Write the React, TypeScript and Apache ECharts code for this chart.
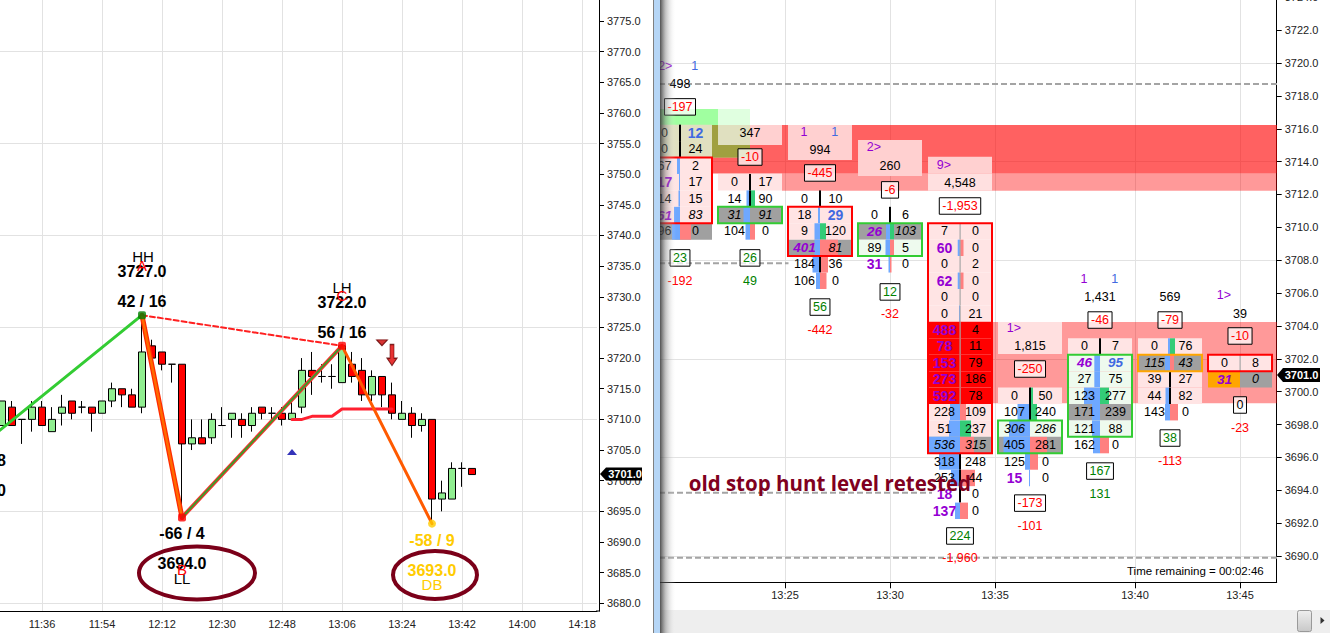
import React, { useEffect, useRef } from "react";
import * as echarts from "echarts";

const FONT = '"Liberation Sans", Arial, sans-serif';

// ---------- left chart data ----------
const leftTimes: string[] = [];
for (let m = 11 * 60 + 21; m <= 14 * 60 + 21; m += 3) {
  leftTimes.push(`${Math.floor(m / 60)}:${String(m % 60).padStart(2, "0")}`);
}
const leftLabelIndexes = [5, 11, 17, 23, 29, 35, 41, 47, 53, 59];
// open, close, low, high
const candles: (number | string)[][] = [
  ["-", "-", "-", "-"],
  [3709, 3713, 3709, 3713],
  [3712, 3709, 3709, 3713],
  [3710, 3710, 3706, 3710],
  [3710, 3712, 3708, 3713],
  [3712, 3709, 3709, 3713],
  [3708, 3710, 3708, 3712],
  [3711, 3712, 3709, 3714],
  [3713, 3711, 3710, 3713],
  [3712, 3712, 3711, 3713],
  [3712, 3711, 3708, 3712],
  [3711, 3713, 3711, 3713],
  [3713, 3715, 3712, 3716],
  [3715, 3714, 3712, 3715],
  [3714, 3712, 3712, 3715],
  [3712, 3721, 3711, 3727],
  [3722, 3720, 3720, 3723],
  [3721, 3719, 3718, 3721],
  [3719, 3719, 3716, 3719],
  [3719, 3706, 3694, 3719],
  [3706, 3707, 3705, 3710],
  [3707, 3706, 3706, 3710],
  [3707, 3710, 3706, 3711],
  [3709, 3709, 3709, 3712],
  [3710, 3711, 3707, 3711],
  [3710, 3709, 3707, 3711],
  [3709, 3711, 3708, 3712],
  [3712, 3711, 3710, 3712],
  [3711, 3711, 3710, 3712],
  [3711, 3710, 3709, 3712],
  [3710, 3711, 3710, 3713],
  [3712, 3718, 3711, 3720],
  [3718, 3717, 3714, 3721],
  [3717, 3717, 3716, 3719],
  [3717, 3717, 3715, 3719],
  [3716, 3722, 3716, 3722],
  [3719, 3717, 3716, 3721],
  [3718, 3714, 3713, 3720],
  [3714, 3717, 3713, 3718],
  [3717, 3714, 3712, 3717],
  [3714, 3711, 3710, 3716],
  [3710, 3711, 3710, 3713],
  [3711, 3709, 3707, 3712],
  [3709, 3710, 3708, 3711],
  [3710, 3697, 3693, 3710],
  [3697, 3698, 3695, 3700],
  [3697, 3702, 3697, 3703],
  [3702, 3702, 3699, 3703],
  [3702, 3701, 3701, 3702],
];
const upLeg = [["11:21", 3707.2], ["12:06", 3727]];
const dropLeg = [["12:06", 3727], ["12:18", 3694]];
const riseLeg = [["12:18", 3694], ["13:06", 3722]];
const lastLeg = [["13:06", 3722], ["13:33", 3693]];
const highsLink = [["12:06", 3727], ["13:06", 3722]];
const redStep = [
  ["12:51", 3710], ["12:54", 3710], ["12:57", 3710.5], ["13:00", 3710.5], ["13:03", 3710.5],
  ["13:06", 3711.7], ["13:09", 3711.7], ["13:12", 3711.7], ["13:15", 3711.7], ["13:18", 3711.7], ["13:21", 3711.7],
];

// ---------- right chart data ----------
const rightTickValues = [1.5, 3, 4.5, 6.5, 8];
const rightTickLabels = ["13:25", "13:30", "13:35", "13:40", "13:45"];
// price, bid, ask, bid bar, ask bar, ask bar kind, fills, fonts, centre line
type Row = [number, number, number, number, number, string, string, string, string];
const col0: Row[] = [
  [3716, 0, 12, 0, 0, "", "ee", "nU", "k"],
  [3715, 0, 24, 0, 0, "", "ee", "nn", "k"],
  [3714, 67, 2, 3, 0, "", "pp", "nn", "-"],
  [3713, 17, 17, 1, 0, "", "pp", "Pn", "-"],
  [3712, 14, 15, 1.5, 0, "", "pp", "nn", "-"],
  [3711, 61, 83, 6, 0, "", "pp", "Qi", "-"],
  [3710, 96, 0, 8, 11, "r", "gg", "nn", "-"],
];
const col1: Row[] = [
  [3713, 0, 17, 0, 0, "", "pp", "nn", "k"],
  [3712, 14, 90, 3.5, 5, "g", "ww", "nn", "k"],
  [3711, 31, 91, 6.5, 0, "", "gg", "ii", "-"],
  [3710, 104, 0, 4.5, 5, "r", "ww", "nn", "-"],
];
const col2: Row[] = [
  [3712, 0, 10, 0, 0, "", "ww", "nn", "k"],
  [3711, 18, 29, 2, 0, "", "pp", "nU", "-"],
  [3710, 9, 120, 5.5, 6, "g", "pp", "nn", "-"],
  [3709, 401, 81, 5.5, 18, "r", "gg", "Qi", "-"],
  [3708, 184, 36, 7.5, 8, "r", "ww", "nn", "k"],
  [3707, 106, 0, 4, 6.5, "r", "ww", "nn", "-"],
];
const col3: Row[] = [
  [3711, 0, 6, 0, 0, "", "ww", "nn", "k"],
  [3710, 26, 103, 4, 4, "g", "gg", "Qi", "-"],
  [3709, 89, 5, 4.5, 4, "r", "ll", "nn", "-"],
  [3708, 31, 0, 1.5, 1.5, "r", "ww", "Pn", "-"],
];
const col4: Row[] = [
  [3710, 7, 0, 0, 0, "", "pp", "nn", "a"],
  [3709, 60, 0, 2.3, 3.5, "r", "pp", "Pn", "a"],
  [3708, 0, 2, 0, 0, "", "pp", "nn", "a"],
  [3707, 62, 0, 2.3, 3.5, "r", "pp", "Pn", "a"],
  [3706, 0, 0, 0, 0, "", "pp", "nn", "a"],
  [3705, 0, 21, 1, 0, "", "pp", "nn", "a"],
  [3704, 488, 4, 0, 0, "", "rr", "Pn", "a"],
  [3703, 78, 11, 0, 0, "", "rr", "Pn", "a"],
  [3702, 153, 79, 0, 0, "", "rr", "Pn", "a"],
  [3701, 273, 186, 0, 0, "", "rr", "Pn", "a"],
  [3700, 592, 78, 0, 0, "", "rr", "Pn", "a"],
  [3699, 228, 109, 10, 6, "r", "pp", "nn", "-"],
  [3698, 51, 237, 11, 11, "g", "pp", "nn", "-"],
  [3697, 536, 315, 32, 14, "r", "gg", "ii", "-"],
  [3696, 318, 248, 21, 0, "", "ww", "nn", "k"],
  [3695, 253, 44, 9, 15, "r", "ww", "nn", "k"],
  [3694, 18, 0, 0, 0, "", "ww", "Pn", "k"],
  [3693, 137, 0, 5, 8, "r", "ww", "Pn", "-"],
];
const col5: Row[] = [
  [3700, 0, 50, 0, 3, "g", "pp", "nn", "k"],
  [3699, 107, 240, 12.5, 7, "g", "ww", "nn", "k"],
  [3698, 306, 286, 21, 0, "", "ll", "ii", "-"],
  [3697, 405, 281, 26.5, 17, "r", "gg", "nn", "-"],
  [3696, 125, 0, 5, 8, "r", "ww", "nn", "-"],
  [3695, 15, 0, 1, 0, "", "ww", "Pn", "-"],
];
const col6: Row[] = [
  [3703, 0, 7, 0, 0, "", "pp", "nn", "k"],
  [3702, 46, 95, 5.7, 0, "", "ll", "QV", "-"],
  [3701, 27, 75, 5.7, 0, "", "ll", "nn", "-"],
  [3700, 123, 277, 16, 9, "g", "ll", "nn", "-"],
  [3699, 171, 239, 8, 0, "", "gg", "nn", "-"],
  [3698, 121, 88, 8, 0, "", "ll", "nn", "-"],
  [3697, 162, 0, 7, 9, "r", "ww", "nn", "-"],
];
const col7: Row[] = [
  [3703, 0, 76, 2, 5, "g", "pp", "nn", "-"],
  [3702, 115, 43, 5, 4, "r", "gg", "ii", "-"],
  [3701, 39, 27, 0, 0, "", "pp", "nn", "k"],
  [3700, 44, 82, 4.5, 0, "", "pp", "nn", "k"],
  [3699, 143, 0, 5, 8, "r", "ww", "nn", "-"],
];
const col8: Row[] = [
  [3702, 0, 8, 0, 0, "", "pp", "nn", "a"],
  [3701, 31, 0, 0, 0, "", "og", "Qi", "-"],
];
const columns = [col0, col1, col2, col3, col4, col5, col6, col7, col8];

// column, top row, bottom row, colour name
const frames: [number, number, number, string][] = [
  [0, 3714, 3711, "red"],
  [1, 3711, 3711, "green"],
  [2, 3711, 3709, "red"],
  [3, 3710, 3709, "green"],
  [4, 3710, 3697, "red"],
  [5, 3698, 3697, "green"],
  [6, 3702, 3698, "green"],
  [7, 3702, 3702, "orange"],
  [8, 3702, 3702, "red"],
];

// time position, price, text, kind
const summaryLabels: [number, number, string, string][] = [
  [-0.21, 3719.82, "2>", "purple"], [0.21, 3719.82, "1", "blue"],
  [0, 3718.73, "498", "plain"], [0, 3717.33, "-197", "redBox"], [0, 3708.14, "23", "greenBox"], [0, 3706.74, "-192", "red"],
  [1, 3715.75, "347", "plain"], [1, 3714.28, "-10", "redBox"], [1, 3708.14, "26", "greenBox"], [1, 3706.74, "49", "green"],
  [1.77, 3715.8, "1", "purple"], [2.21, 3715.8, "1", "blue"], [2, 3714.71, "994", "plain"], [2, 3713.31, "-445", "redBox"], [2, 3705.15, "56", "greenBox"], [2, 3703.76, "-442", "red"],
  [2.77, 3714.9, "2>", "purple"], [3, 3713.75, "260", "plain"], [3, 3712.28, "-6", "redBox"], [3, 3706.07, "12", "greenBox"], [3, 3704.73, "-32", "red"],
  [3.77, 3713.8, "9>", "purple"], [4, 3712.7, "4,548", "plain"], [4, 3711.3, "-1,953", "redBox"], [4, 3691.22, "224", "greenBox"], [4, 3689.88, "-1,960", "red"],
  [4.77, 3703.88, "1>", "purple"], [5, 3702.78, "1,815", "plain"], [5, 3701.38, "-250", "redBox"], [5, 3693.22, "-173", "redBox"], [5, 3691.83, "-101", "red"],
  [5.77, 3706.86, "1", "purple"], [6.21, 3706.86, "1", "blue"], [6, 3705.76, "1,431", "plain"], [6, 3704.36, "-46", "redBox"], [6, 3695.17, "167", "greenBox"], [6, 3693.77, "131", "green"],
  [7, 3705.76, "569", "plain"], [7, 3704.36, "-79", "redBox"], [7, 3697.18, "38", "greenBox"], [7, 3695.78, "-113", "red"],
  [7.77, 3705.88, "1>", "purple"], [8, 3704.73, "39", "plain"], [8, 3703.39, "-10", "redBox"], [8, 3699.19, "0", "plainBox"], [8, 3697.79, "-23", "red"],
];

// x start, x end, top price, bottom price, shade name
const zones: [number, number, number, number, string][] = [
  [-0.3, 0.543, 3717.21, 3716.23, "green1"],
  [0.543, 1, 3717.21, 3716.23, "green2"],
  [-0.3, 0.457, 3716.23, 3714.24, "olive1"],
  [0.457, 1, 3716.23, 3714.24, "olive2"],
  [1, 8.53, 3716.23, 3713.27, "red1"],
  [0.457, 1, 3714.24, 3713.27, "red1"],
  [1.457, 8.53, 3713.27, 3712.23, "red2"],
  [0.543, 1, 3716.23, 3715.01, "olive1"],
  [1, 1.457, 3716.23, 3715.01, "pink2"],
  [1.543, 2.457, 3716.23, 3714.1, "pink2"],
  [2.543, 3.457, 3715.32, 3713.13, "pink2"],
  [3.543, 4.457, 3714.3, 3713.27, "pink2"],
  [3.543, 4.457, 3713.27, 3712.23, "pink1"],
  [4.457, 8.53, 3704.24, 3699.29, "red2"],
  [4.543, 5.457, 3704.24, 3702.3, "pink1"],
  [-0.3, 0.457, 3719.2, 3718.2, "veil"],
  [3.543, 4.457, 3690.36, 3689.39, "veil"],
];
const dashedHigh = [[-0.3, 3718.73], [8.53, 3718.73]];
const dashedMid = [[-0.3, 3707.82], [1.55, 3707.82]];
const dashedStop = [[-0.3, 3693.85], [3.6, 3693.85]];
const dashedLow = [[-0.3, 3689.9], [8.53, 3689.9]];

const SHADES: Record<string, string> = {
  green1: "#a0ffa0", green2: "#e0ffe0", olive1: "#e0e0c0", olive2: "#a0a040",
  red1: "rgba(255,0,0,0.62)", red2: "rgba(255,0,0,0.4)", pink1: "#ffe0e0", pink2: "#ffd0d0",
  veil: "rgba(255,255,255,0.72)",
};
const FILLS: Record<string, string | null> = { p: "#ffe4e4", g: "#a0a0a0", r: "#ff0000", l: "#eefaee", o: "#ffa500", e: "#e0e0c0", w: null };
const FRAME_COLORS: Record<string, string> = { red: "#ff0000", green: "#33cc33", orange: "#ffa500" };
const CELL_FONTS: Record<string, any> = {
  n: { fontSize: 12.5, fill: "#000" },
  i: { fontSize: 12.5, fill: "#000", fontStyle: "italic" },
  P: { fontSize: 14, fill: "#9400d3", fontWeight: "bold" },
  Q: { fontSize: 13.5, fill: "#9400d3", fontWeight: "bold", fontStyle: "italic" },
  U: { fontSize: 14, fill: "#4169e1", fontWeight: "bold" },
  V: { fontSize: 13.5, fill: "#4169e1", fontWeight: "bold", fontStyle: "italic" },
};
const LABEL_COLORS: Record<string, string> = {
  plain: "#000", plainBox: "#000", red: "#ff0000", redBox: "#ff0000", green: "#008000", greenBox: "#008000", purple: "#9400d3", blue: "#4169e1",
};

const flatRows = columns.flatMap((rows, c) => rows.map((r) => ({ c, r })));
const rowTop = (p: number) => p + 0.25;
const rowBottom = (p: number) => p - 0.75;
const rowMid = (p: number) => p - 0.25;
const HALF = 32;

function renderZone(params: any, api: any) {
  const z = zones[params.dataIndex];
  const a = api.coord([z[0], z[2]]);
  const b = api.coord([z[1], z[3]]);
  return { type: "rect", shape: { x: a[0], y: a[1], width: b[0] - a[0], height: b[1] - a[1] }, style: { fill: SHADES[z[4]] } };
}

function renderRow(params: any, api: any) {
  const { c, r } = flatRows[params.dataIndex];
  const [p, bid, ask, bidBar, askBar, kind, fills, fonts, line] = r;
  const top = api.coord([c, rowTop(p)]);
  const bot = api.coord([c, rowBottom(p)]);
  const mid = api.coord([c, rowMid(p)]);
  const cx = top[0];
  const h = bot[1] - top[1];
  const children: any[] = [];
  const lf = FILLS[fills[0]];
  const rf = FILLS[fills[1]];
  if (lf) children.push({ type: "rect", shape: { x: cx - HALF, y: top[1], width: HALF, height: h }, style: { fill: lf } });
  if (rf) children.push({ type: "rect", shape: { x: cx, y: top[1], width: HALF, height: h }, style: { fill: rf } });
  if (bidBar > 0) children.push({ type: "rect", shape: { x: cx - bidBar, y: top[1], width: bidBar, height: h }, style: { fill: "#6ea8ff" } });
  if (askBar > 0) children.push({ type: "rect", shape: { x: cx, y: top[1], width: askBar, height: h }, style: { fill: kind === "g" ? "#33cc77" : "#ff8080" } });
  if (line !== "-") {
    children.push({ type: "rect", shape: { x: line === "k" ? cx - 1 : cx - 0.5, y: top[1], width: line === "k" ? 2 : 1.2, height: h }, style: { fill: line === "k" ? "#000" : "#a8a8a8" } });
  }
  const mk = (v: number, dx: number, code: string) => ({
    type: "text",
    style: { text: String(v), x: cx + dx, y: mid[1], align: "center", verticalAlign: "middle", fontFamily: FONT, ...CELL_FONTS[code] },
  });
  children.push(mk(bid, -15.5, fonts[0]), mk(ask, 15.5, fonts[1]));
  return { type: "group", children };
}

function renderFrame(params: any, api: any) {
  const f = frames[params.dataIndex];
  const a = api.coord([f[0], rowTop(f[1])]);
  const b = api.coord([f[0], rowBottom(f[2])]);
  return {
    type: "rect",
    shape: { x: a[0] - HALF, y: a[1], width: HALF * 2, height: b[1] - a[1] },
    style: { fill: "none", stroke: FRAME_COLORS[f[3]], lineWidth: 2 },
  };
}

function textWidth(t: string) {
  let w = 0;
  for (const ch of t) w += ch === "-" ? 0.333 : ch === "," ? 0.278 : 0.556;
  return w * 12.5;
}

function renderLabel(params: any, api: any) {
  const l = summaryLabels[params.dataIndex];
  const pt = api.coord([l[0], l[1]]);
  const children: any[] = [];
  if (l[3].endsWith("Box")) {
    const w = textWidth(l[2]) + 6;
    children.push({
      type: "rect",
      shape: { x: pt[0] - w / 2, y: pt[1] - 8.25, width: w, height: 16.5 },
      style: { fill: "rgba(255,255,255,0.75)", stroke: "#000", lineWidth: 1 },
    });
  }
  children.push({
    type: "text",
    style: { text: l[2], x: pt[0], y: pt[1], align: "center", verticalAlign: "middle", fontFamily: FONT, fontSize: 12.5, fill: LABEL_COLORS[l[3]] },
  });
  return { type: "group", children };
}

const range = (a: number, b: number, s: number) => {
  const out: number[] = [];
  for (let v = a; v <= b; v += s) out.push(v);
  return out;
};
const GRID = "#e2e2e2";

function legLine(data: any, color: string, width: number, extra: any = {}) {
  return {
    type: "line", xAxisIndex: 0, yAxisIndex: 0, data, symbol: "none", z: 5, silent: true,
    lineStyle: { color, width, cap: "round", ...extra },
  };
}
function dashed(data: any) {
  return {
    type: "line", xAxisIndex: 1, yAxisIndex: 2, data, symbol: "none", z: 3, silent: true,
    lineStyle: { color: "#a4a4a4", width: 2, type: [6, 3] },
  };
}
function marker(point: any, symbol: string, size: any, color: string, extra: any = {}) {
  return {
    type: "scatter", xAxisIndex: 0, yAxisIndex: 0, data: [point], symbol, symbolSize: size, z: 6, silent: true,
    itemStyle: { color, ...extra.item }, symbolRotate: extra.rotate ?? 0,
  };
}
const T = (text: string, x: number, y: number, opts: any = {}) => ({
  type: "text", z: 60, silent: true,
  style: { text, x, y, align: "center", verticalAlign: "middle", fontFamily: FONT, fontSize: 16, fill: "#000", ...opts },
});

function buildOption(): any {
  return {
    animation: false,
    backgroundColor: "#fff",
    grid: [
      { left: -13, top: 0, width: 610, height: 611, containLabel: false, outerBoundsMode: "none" },
      { left: 660, top: -5, width: 616.7, height: 587.3, containLabel: false, outerBoundsMode: "none" },
    ],
    xAxis: [
      {
        type: "category", gridIndex: 0, data: leftTimes, boundaryGap: true,
        axisLine: { lineStyle: { color: "#000", width: 1 } },
        axisTick: { customValues: leftLabelIndexes, alignWithLabel: true, length: 6, lineStyle: { color: "#000" } },
        axisLabel: { customValues: leftLabelIndexes, color: "#222", fontFamily: FONT, fontSize: 11, margin: 7, hideOverlap: false },
        splitLine: { show: true, alignWithLabel: true, lineStyle: { color: GRID, width: 1 } },
      },
      {
        type: "value", gridIndex: 1, min: -0.2857, max: 8.524,
        axisLine: { onZero: false, lineStyle: { color: "#000", width: 1 } },
        axisTick: { customValues: rightTickValues, length: 6, lineStyle: { color: "#000" } },
        axisLabel: { customValues: rightTickValues, color: "#222", fontFamily: FONT, fontSize: 11, margin: 7, formatter: (v: number) => rightTickLabels[rightTickValues.indexOf(v)] ?? "" },
        splitLine: { show: true, lineStyle: { color: GRID, width: 1 } },
      },
    ],
    yAxis: [
      {
        type: "value", gridIndex: 0, position: "right", offset: 2, min: 3678.74, max: 3778.42,
        axisLine: { show: true, onZero: false, lineStyle: { color: "#000", width: 1 } },
        axisTick: { show: true, customValues: range(3680, 3775, 5), length: 5, lineStyle: { color: "#000" } },
        axisLabel: { show: true, customValues: range(3680, 3775, 5), color: "#222", fontFamily: FONT, fontSize: 11, margin: 8, formatter: (v: number) => v.toFixed(1) },
        splitLine: { show: false },
      },
      {
        type: "value", gridIndex: 0, position: "right", min: 3678.74, max: 3778.42,
        axisLine: { show: false }, axisLabel: { show: false },
        axisTick: { show: false, customValues: range(3680, 3770, 15) },
        splitLine: { show: true, lineStyle: { color: GRID, width: 1 } },
      },
      {
        type: "value", gridIndex: 1, position: "right", min: 3688.4, max: 3724.14,
        axisLine: { show: true, onZero: false, lineStyle: { color: "#000", width: 1 } },
        axisTick: { show: true, customValues: range(3690, 3724, 2), length: 5, lineStyle: { color: "#000" } },
        axisLabel: { show: true, customValues: range(3690, 3724, 2), color: "#222", fontFamily: FONT, fontSize: 11, margin: 8, formatter: (v: number) => v.toFixed(1) },
        splitLine: { show: false },
      },
      {
        type: "value", gridIndex: 1, position: "right", min: 3688.4, max: 3724.14,
        axisLine: { show: false, onZero: false }, axisLabel: { show: false },
        axisTick: { show: false, customValues: range(3690, 3720, 6) },
        splitLine: { show: true, lineStyle: { color: GRID, width: 1 } },
      },
    ],
    series: [
      {
        type: "candlestick", xAxisIndex: 0, yAxisIndex: 0, data: candles, barWidth: 7, z: 4, silent: true,
        itemStyle: { color: "#90ee90", color0: "#ff0000", borderColor: "#000", borderColor0: "#000", borderColorDoji: "#000", borderWidth: 1 },
      },
      legLine(redStep, "#ff2030", 3),
      legLine(upLeg, "#33cc33", 3),
      legLine(dropLeg, "#ff2a00", 5),
      legLine(dropLeg, "#ff6a00", 2.5),
      legLine(riseLeg, "#ff3030", 4),
      legLine(riseLeg, "#3f9a2a", 2),
      legLine(lastLeg, "#ff5a00", 3),
      legLine(highsLink, "#ff2020", 2, { type: [5, 3] }),
      marker(["12:06", 3727], "roundRect", 8, "#008000"),
      marker(["12:18", 3694], "roundRect", 8, "#ff0000"),
      marker(["13:06", 3722], "roundRect", 8, "#ff0000"),
      marker(["13:33", 3693], "circle", 8, "#ffcc00"),
      marker(["12:51", 3704.7], "triangle", [10, 6], "#0000a8"),
      marker(["13:18", 3722.5], "triangle", [11, 6], "#cc0000", { rotate: 180, item: { borderColor: "#600000", borderWidth: 1 } }),
      marker(["13:21", 3720.5], "path://M3 0H7V13H10L5 20L0 13H3Z", [10, 21], "#e00000", { item: { borderColor: "#600000", borderWidth: 1 } }),
      {
        type: "custom", xAxisIndex: 1, yAxisIndex: 2, data: zones.map((z) => [z[0], z[2]]), renderItem: renderZone, clip: true, z: 2, silent: true,
        encode: { x: 0, y: 1 },
      },
      dashed(dashedHigh), dashed(dashedMid), dashed(dashedStop), dashed(dashedLow),
      {
        type: "custom", xAxisIndex: 1, yAxisIndex: 2, data: flatRows.map(({ c, r }) => [c, r[0]]), renderItem: renderRow, clip: true, z: 4, silent: true,
        encode: { x: 0, y: 1 },
      },
      {
        type: "custom", xAxisIndex: 1, yAxisIndex: 2, data: frames.map((f) => [f[0], f[1]]), renderItem: renderFrame, clip: true, z: 5, silent: true,
        encode: { x: 0, y: 1 },
      },
      {
        type: "custom", xAxisIndex: 1, yAxisIndex: 2, data: summaryLabels.map((l) => [l[0], l[1]]), renderItem: renderLabel, clip: true, z: 6, silent: true,
        encode: { x: 0, y: 1 },
      },
    ],
    graphic: [
      { type: "line", z: 50, silent: true, shape: { x1: 596, y1: 611, x2: 600, y2: 611 }, style: { stroke: "#000", lineWidth: 1 } },
      // left annotations
      T("HH", 143, 256, { fontSize: 15 }),
      T("3727.0", 142, 271, { fontWeight: "bold" }),
      T("A", 142, 265, { fill: "#ff0000", fontSize: 15 }),
      T("42 / 16", 142, 301, { fontWeight: "bold" }),
      T("LH", 342, 287, { fontSize: 15 }),
      T("3722.0", 342, 302, { fontWeight: "bold" }),
      T("C", 342, 295, { fill: "#ff0000", fontSize: 15 }),
      T("56 / 16", 342, 332, { fontWeight: "bold" }),
      T("-66 / 4", 182, 533, { fontWeight: "bold" }),
      T("3694.0", 182, 563, { fontWeight: "bold" }),
      T("LL", 182, 578, { fontSize: 15 }),
      T("B", 182, 569, { fill: "#ff0000", fontSize: 15 }),
      T("-58 / 9", 432, 540, { fill: "#ffcc00", fontWeight: "bold" }),
      T("3693.0", 432, 570, { fill: "#ffcc00", fontWeight: "bold" }),
      T("DB", 432, 584, { fill: "#ffcc00", fontSize: 15 }),
      T("8", 6, 460, { align: "right", fontWeight: "bold" }),
      T("0", 6, 490, { align: "right", fontWeight: "bold" }),
      { type: "ellipse", z: 59, silent: true, shape: { cx: 197, cy: 573, rx: 58, ry: 26.5 }, style: { fill: "none", stroke: "#7b0019", lineWidth: 4 } },
      { type: "ellipse", z: 59, silent: true, shape: { cx: 435, cy: 575, rx: 42, ry: 24 }, style: { fill: "none", stroke: "#7b0019", lineWidth: 4 } },
      // last price tags
      { type: "polygon", z: 61, silent: true, shape: { points: [[600, 474], [606, 467.5], [642, 467.5], [642, 480.5], [606, 480.5]] }, style: { fill: "#000" } },
      { ...T("3701.0", 625, 474, { fill: "#fff", fontSize: 11, fontWeight: "bold" }), z: 62 },
      { type: "polygon", z: 61, silent: true, shape: { points: [[1277, 375], [1283, 368], [1320, 368], [1320, 382], [1283, 382]] }, style: { fill: "#000" } },
      { ...T("3701.0", 1301.5, 375, { fill: "#fff", fontSize: 11, fontWeight: "bold" }), z: 62 },
      // right annotations
      T("old stop hunt level retested", 688.7, 483, { align: "left", fontFamily: '"Open Sans", sans-serif', fontWeight: "bold", fontSize: 20.5, fill: "#800020" }),
      T("Time remaining = 00:02:46", 1127, 571, { align: "left", fontSize: 11.5 }),
      // panel chrome
      { type: "rect", z: 100, silent: true, shape: { x: 660, y: 610, width: 670, height: 23 }, style: { fill: "#eeeeee" } },
      { type: "rect", z: 101, silent: true, shape: { x: 653, y: 0, width: 7, height: 633 }, style: { fill: "#b6d6f6" } },
      { type: "rect", z: 102, silent: true, shape: { x: 653, y: 0, width: 1, height: 633 }, style: { fill: "#808080" } },
      {
        type: "rect", z: 102, silent: true, shape: { x: 660, y: 0, width: 16, height: 633 },
        style: {
          fill: new echarts.graphic.LinearGradient(0, 0, 1, 0, [
            { offset: 0, color: "rgba(50,50,50,0.85)" },
            { offset: 0.35, color: "rgba(120,120,120,0.45)" },
            { offset: 1, color: "rgba(255,255,255,0)" },
          ]),
        },
      },
      {
        type: "rect", z: 103, silent: true, shape: { x: 1297.5, y: 610.5, width: 14, height: 21, r: 2 },
        style: {
          stroke: "#999",
          fill: new echarts.graphic.LinearGradient(0, 0, 0, 1, [
            { offset: 0, color: "#eeeeee" },
            { offset: 1, color: "#c8c8c8" },
          ]),
        },
      },
      { type: "polygon", z: 103, silent: true, shape: { points: [[1320.5, 617], [1324.5, 620.5], [1320.5, 624]] }, style: { fill: "#333" } },
    ],
  };
}

export default function App() {
  const ref = useRef<HTMLDivElement>(null);
  useEffect(() => {
    document.body.style.margin = "0";
    const chart = echarts.init(ref.current as HTMLDivElement, undefined, { renderer: "svg" });
    chart.setOption(buildOption());
    return () => chart.dispose();
  }, []);
  return <div ref={ref} style={{ position: "fixed", left: 0, top: 0, width: 1330, height: 633 }} />;
}
